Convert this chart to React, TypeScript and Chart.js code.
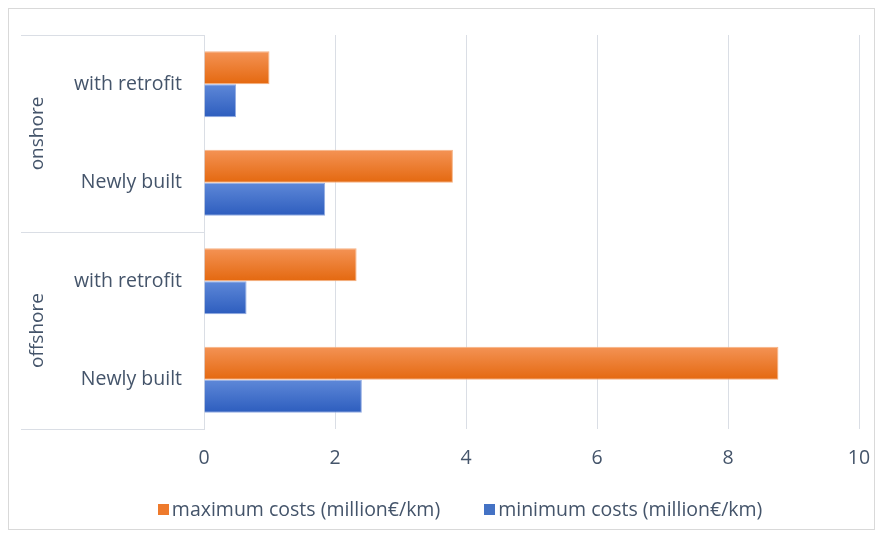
import React, { useEffect, useRef } from "react";
import { Chart, registerables } from "chart.js";

Chart.register(...registerables);

const groups = ["onshore", "offshore"];
const categories = ["with retrofit", "Newly built", "with retrofit", "Newly built"];
const groupOfCategory = [0, 0, 1, 1];
const maxCosts = [1.0, 3.8, 2.33, 8.77];
const minCosts = [0.49, 1.85, 0.65, 2.41];
const seriesLabels = ["maximum costs (million€/km)", "minimum costs (million€/km)"];
const xTicks = [0, 2, 4, 6, 8, 10];

const FONT = "'Open Sans', sans-serif";
const FS = 19.5;
const TEXT = "#44546A";
const GRID = "#DADEE5";
const CAT_PCT = 0.67;

const palettes = [
  { top: "#F49355", bottom: "#E4680F", border: "#F6B283", box: "#EE7A2C" },
  { top: "#5E88D8", bottom: "#2D5DBE", border: "#93ACE2", box: "#4472C4" },
];

function gradientFor(ctx: any) {
  const pal = palettes[ctx.datasetIndex] || palettes[0];
  const chart = ctx.chart;
  const y = chart.scales && chart.scales.y;
  if (!chart.chartArea || !y || ctx.type !== "data") return pal.box;
  const center = y.getPixelForValue(ctx.dataIndex);
  const band = Math.abs(y.getPixelForValue(1) - y.getPixelForValue(0));
  const thick = (band * CAT_PCT) / 2;
  const top = ctx.datasetIndex === 0 ? center - thick : center;
  const g = chart.ctx.createLinearGradient(0, top, 0, top + thick);
  g.addColorStop(0, pal.top);
  g.addColorStop(1, pal.bottom);
  return g;
}

const groupPlugin = {
  id: "groupBrackets",
  afterDraw(chart: any) {
    const { ctx, chartArea } = chart;
    const y = chart.scales.y;
    ctx.save();
    ctx.strokeStyle = GRID;
    ctx.lineWidth = 1;
    const lines: number[] = [chartArea.top];
    for (let i = 1; i < categories.length; i++) {
      if (groupOfCategory[i] !== groupOfCategory[i - 1]) {
        lines.push((y.getPixelForValue(i - 1) + y.getPixelForValue(i)) / 2);
      }
    }
    lines.push(chartArea.bottom);
    lines.forEach((ly) => {
      const py = Math.round(ly) + 0.5;
      ctx.beginPath();
      ctx.moveTo(12, py);
      ctx.lineTo(chartArea.left, py);
      ctx.stroke();
    });
    ctx.fillStyle = TEXT;
    ctx.font = `19px ${FONT}`;
    ctx.textAlign = "center";
    ctx.textBaseline = "middle";
    groups.forEach((g, gi) => {
      const idx = groupOfCategory.map((v, i) => (v === gi ? i : -1)).filter((i) => i >= 0);
      const a = y.getPixelForValue(idx[0]);
      const b = y.getPixelForValue(idx[idx.length - 1]);
      ctx.save();
      ctx.translate(29, (a + b) / 2);
      ctx.rotate(-Math.PI / 2);
      ctx.fillText(g, 0, 0);
      ctx.restore();
    });

    // legend
    ctx.font = `${FS}px ${FONT}`;
    ctx.textAlign = "left";
    const box = 11;
    const gapBoxText = 3;
    const gapItems = 44;
    const widths = chart.data.datasets.map((d: any) => ctx.measureText(d.label).width);
    let total = 0;
    widths.forEach((w: number, i: number) => {
      total += box + gapBoxText + w + (i > 0 ? gapItems : 0);
    });
    let x = chart.width * 0.5215 - total / 2;
    const ly = 500.5;
    chart.data.datasets.forEach((d: any, i: number) => {
      ctx.fillStyle = palettes[i].box;
      ctx.fillRect(Math.round(x), Math.round(ly - box / 2), box, box);
      ctx.fillStyle = TEXT;
      ctx.fillText(d.label, x + box + gapBoxText, ly + 1);
      x += box + gapBoxText + widths[i] + gapItems;
    });
    ctx.restore();
  },
};

export default function App() {
  const ref = useRef<HTMLCanvasElement>(null);
  useEffect(() => {
    if (!ref.current) return;
    const chart = new Chart(ref.current, {
      type: "bar",
      data: {
        labels: categories,
        datasets: [
          {
            label: seriesLabels[0],
            data: maxCosts,
            backgroundColor: gradientFor,
            borderColor: palettes[0].border,
            borderWidth: 1,
            categoryPercentage: CAT_PCT,
            barPercentage: 1,
          },
          {
            label: seriesLabels[1],
            data: minCosts,
            backgroundColor: gradientFor,
            borderColor: palettes[1].border,
            borderWidth: 1,
            categoryPercentage: CAT_PCT,
            barPercentage: 1,
          },
        ],
      },
      options: {
        indexAxis: "y",
        animation: false,
        responsive: false,
        maintainAspectRatio: false,
        layout: { padding: { top: 26, right: 15, left: 0, bottom: 0 } },
        plugins: {
          legend: { display: false },
          tooltip: { enabled: false },
        },
        scales: {
          x: {
            min: 0,
            max: 10,
            afterBuildTicks: (s: any) => {
              s.ticks = xTicks.map((v) => ({ value: v }));
            },
            afterFit: (s: any) => {
              s.height = 100;
              s.paddingLeft = 0;
              s.paddingRight = 0;
            },
            grid: { color: GRID, drawTicks: false, lineWidth: 1 },
            border: { display: false },
            ticks: {
              color: TEXT,
              font: { family: FONT, size: FS },
              padding: 18,
            },
          },
          y: {
            afterFit: (s: any) => {
              s.width = 195;
              s.paddingTop = 0;
              s.paddingBottom = 0;
            },
            grid: { display: false, drawTicks: false },
            border: { display: true, color: GRID, width: 1 },
            ticks: {
              color: TEXT,
              font: { family: FONT, size: FS },
              padding: 22,
            },
          },
        },
      },
      plugins: [groupPlugin],
    });
    return () => chart.destroy();
  }, []);
  return (
    <div
      style={{
        width: 867,
        height: 522,
        border: "1px solid #D9D9D9",
        boxSizing: "border-box",
        background: "#fff",
      }}
    >
      <canvas ref={ref} width={865} height={520} style={{ display: "block" }} />
    </div>
  );
}
